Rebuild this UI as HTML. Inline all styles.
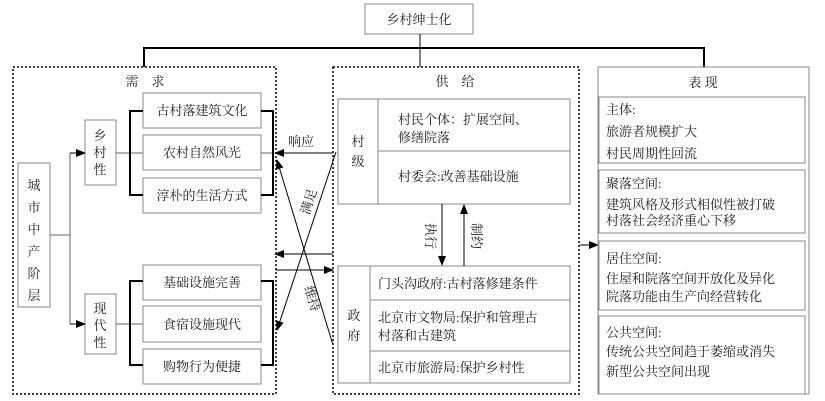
<!DOCTYPE html>
<html><head><meta charset="utf-8"><style>
html,body{margin:0;padding:0;background:#fff;}
svg{display:block;}
text{font-family:"Liberation Serif","Noto Serif CJK SC","Noto Sans CJK SC",serif;font-size:13px;fill:#222;}
</style></head><body>
<svg width="825" height="401" viewBox="0 0 825 401" xmlns="http://www.w3.org/2000/svg">
<defs>
<marker id="a" markerWidth="10" markerHeight="8" refX="9" refY="4" orient="auto" markerUnits="userSpaceOnUse"><path d="M0,0 L10,4 L0,8 Z" fill="#000"/></marker>
</defs>
<g fill="none" stroke="#888" stroke-width="1">
<rect x="365" y="4" width="108" height="30" fill="#fff"/>
</g>
<text x="419" y="24" text-anchor="middle">乡村绅士化</text>
<g fill="none" stroke="#000" stroke-width="2">
<polyline points="144,67 144,48 704,48 704,67"/>
<line x1="420" y1="34" x2="420" y2="67" stroke-width="1"/>
</g>
<g fill="none" stroke="#000" stroke-width="1.5" stroke-dasharray="2,2">
<rect x="13" y="67" width="263" height="327"/>
<rect x="333" y="67" width="246" height="327"/>
</g>
<text x="145" y="86" text-anchor="middle">需　求</text>
<text x="455" y="86" text-anchor="middle">供　给</text>
<g fill="#fff" stroke="#888" stroke-width="1">
<rect x="18" y="163" width="32" height="144"/>
<rect x="85" y="120" width="31" height="65"/>
<rect x="85" y="294" width="31" height="60"/>
<rect x="143" y="93" width="118" height="35"/>
<rect x="143" y="135" width="118" height="35"/>
<rect x="143" y="178" width="118" height="35"/>
<rect x="143" y="265" width="118" height="35"/>
<rect x="143" y="306" width="118" height="36"/>
<rect x="143" y="349" width="118" height="35"/>
</g>
<g fill="none" stroke="#666" stroke-width="1">
<line x1="50" y1="235" x2="70" y2="235"/>
<line x1="70" y1="153" x2="70" y2="324"/>
<line x1="116" y1="153" x2="143" y2="153"/>
<line x1="116" y1="324" x2="143" y2="324"/>
<line x1="261" y1="153" x2="273" y2="153"/>
</g>
<g stroke="#000" stroke-width="1">
<line x1="70" y1="153" x2="85" y2="153" marker-end="url(#a)"/>
<line x1="70" y1="324" x2="85" y2="324" marker-end="url(#a)"/>
</g>
<g fill="none" stroke="#000" stroke-width="2">
<polyline points="143,111 130,111 130,195 143,195"/>
<polyline points="261,111 273,111 273,195 261,195"/>
<polyline points="143,281 130,281 130,365 143,365"/>
<polyline points="261,281 273,281 273,365 261,365"/>
</g>
<g text-anchor="middle">
<text x="34" y="190">城</text><text x="34" y="212">市</text><text x="34" y="234">中</text><text x="34" y="256">产</text><text x="34" y="278">阶</text><text x="34" y="300">层</text>
<text x="100" y="140">乡</text><text x="100" y="157">村</text><text x="100" y="174">性</text>
<text x="100" y="313">现</text><text x="100" y="330">代</text><text x="100" y="347">性</text>
<text x="202" y="115" font-size="14">古村落建筑文化</text>
<text x="202" y="157" font-size="14">农村自然风光</text>
<text x="202" y="200" font-size="14">淳朴的生活方式</text>
<text x="202" y="287" font-size="14">基础设施完善</text>
<text x="202" y="329" font-size="14">食宿设施现代</text>
<text x="202" y="371" font-size="14">购物行为便捷</text>
</g>
<g fill="#fff" stroke="#888" stroke-width="1">
<rect x="338" y="99" width="232" height="105"/>
<rect x="338" y="266" width="232" height="117"/>
</g>
<g stroke="#888" stroke-width="1">
<line x1="378" y1="99" x2="378" y2="204"/>
<line x1="378" y1="151" x2="570" y2="151"/>
<line x1="370" y1="266" x2="370" y2="383"/>
<line x1="370" y1="300" x2="570" y2="300"/>
<line x1="370" y1="351" x2="570" y2="351"/>
</g>
<g text-anchor="middle"><text x="358" y="146">村</text><text x="358" y="166">级</text>
<text x="354" y="320">政</text><text x="354" y="340">府</text></g>
<text x="398" y="124">村民个体：扩展空间、</text>
<text x="398" y="142">修缮院落</text>
<text x="398" y="181">村委会:改善基础设施</text>
<text x="378" y="288">门头沟政府:古村落修建条件</text>
<text x="378" y="322">北京市文物局:保护和管理古</text>
<text x="378" y="340">村落和古建筑</text>
<text x="378" y="372">北京市旅游局:保护乡村性</text>
<g stroke="#000" stroke-width="1">
<line x1="442" y1="204" x2="442" y2="265" marker-end="url(#a)"/>
<line x1="464" y1="266" x2="464" y2="205" marker-end="url(#a)"/>
<line x1="333" y1="153" x2="275" y2="153" marker-end="url(#a)"/>
<line x1="333" y1="254" x2="275" y2="254" marker-end="url(#a)"/>
<line x1="276" y1="270" x2="333" y2="270" marker-end="url(#a)"/>
<line x1="333" y1="345" x2="277" y2="160" marker-end="url(#a)"/>
<line x1="336" y1="152" x2="277" y2="330" marker-end="url(#a)"/>
<line x1="580" y1="245" x2="598" y2="245" marker-end="url(#a)"/>
</g>
<text x="288" y="146">响应</text>
<text transform="translate(313,203) rotate(-72)" text-anchor="middle">满足</text>
<text transform="translate(308,300) rotate(72)" text-anchor="middle">维持</text>
<text transform="translate(426,236) rotate(90)" text-anchor="middle">执行</text>
<text transform="translate(472,236) rotate(90)" text-anchor="middle">制约</text>
<g fill="#fff" stroke="#888" stroke-width="1">
<rect x="598" y="67" width="211" height="327"/>
<rect x="599" y="97" width="206" height="66"/>
<rect x="599" y="170" width="206" height="63"/>
<rect x="599" y="241" width="206" height="69"/>
<rect x="599" y="316" width="206" height="78"/>
</g>
<text x="703" y="87" text-anchor="middle">表 现</text>
<text x="606" y="114">主体:</text>
<text x="606" y="136">旅游者规模扩大</text>
<text x="606" y="158">村民周期性回流</text>
<text x="606" y="188">聚落空间:</text>
<text x="606" y="209">建筑风格及形式相似性被打破</text>
<text x="606" y="225">村落社会经济重心下移</text>
<text x="606" y="263">居住空间:</text>
<text x="606" y="283">住屋和院落空间开放化及异化</text>
<text x="606" y="301">院落功能由生产向经营转化</text>
<text x="606" y="337">公共空间:</text>
<text x="606" y="356">传统公共空间趋于萎缩或消失</text>
<text x="606" y="376">新型公共空间出现</text>
</svg>
</body></html>
